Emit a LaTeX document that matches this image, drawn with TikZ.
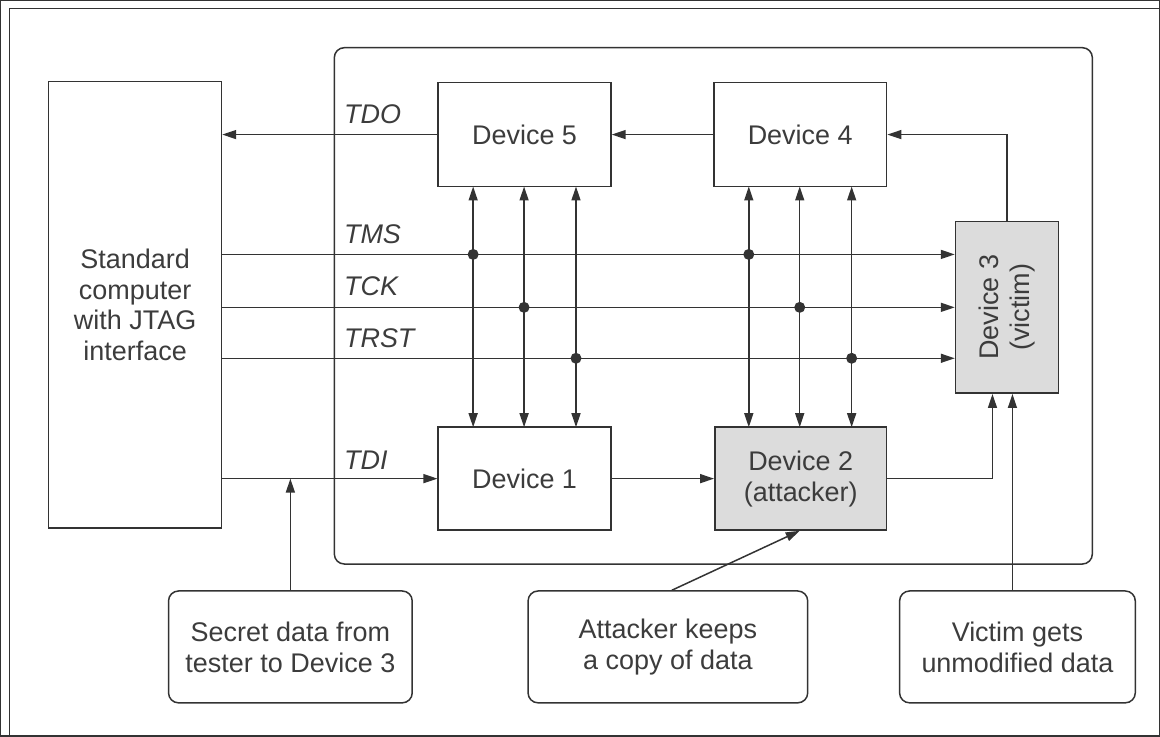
\documentclass[tikz,border=0pt]{standalone}
\usepackage{fontspec}
\setmainfont{Liberation Sans}
\usetikzlibrary{arrows.meta,calc}
\definecolor{ink}{HTML}{333333}
\definecolor{txt}{HTML}{3C3C3C}
\definecolor{shade}{HTML}{DCDCDC}

\begin{document}
\begin{tikzpicture}[x=1pt,y=-1pt, line width=1.5pt,
  every path/.style={draw=ink},
  arr/.style={-{Triangle[length=14pt,width=9pt]}},
  biarr/.style={{Triangle[length=14pt,width=9pt]}-{Triangle[length=14pt,width=9pt]}},
  devbox/.style={draw=ink, line width=1.5pt, inner sep=0pt, text=txt,
    font=\fontsize{27}{31}\selectfont, align=center},
  callout/.style={devbox, rounded corners=10pt},
  sig/.style={anchor=base west, text=txt, inner sep=0pt,
    font=\fontsize{27}{31}\selectfont\itshape},
  junction/.style={fill=ink, draw=none}]

\useasboundingbox (0,0) rectangle (1160,736);

% outer frame (open to the right and bottom)
\draw (9,740) -- (9,8) -- (1165,8);

% board holding the chained devices
\draw[rounded corners=10pt] (334,47) rectangle (1093,564);

% host computer
\node[devbox, minimum width=173pt, minimum height=447pt] (comp) at (134.5,304.5)
  {Standard\\computer\\with JTAG\\interface};

% devices on the chain
\node[devbox, minimum width=173pt, minimum height=104pt] (d5) at (524.5,134) {Device 5};
\node[devbox, minimum width=173pt, minimum height=104pt] (d4) at (800.5,134) {Device 4};
\node[devbox, minimum width=173pt, minimum height=103pt] (d1) at (524.5,478.5) {Device 1};
\node[devbox, fill=shade, minimum width=172pt, minimum height=103pt] (d2) at (801,478.5)
  {Device 2\\(attacker)};
\node[devbox, fill=shade, minimum width=103pt, minimum height=172pt] (d3) at (1007.5,307) {};
\node[text=txt, font=\fontsize{27}{31}\selectfont, align=center, rotate=90] (d3t) at (d3.center)
  {Device 3\\(victim)};

% explanatory callouts
\node[callout, minimum width=244pt, minimum height=112pt] (c1) at (290,647)
  {Secret data from\\tester to Device 3};
\node[callout, minimum width=280pt, minimum height=112pt] (c2) at (668,647)
  {Attacker keeps\\a copy of data};
\node[callout, minimum width=236pt, minimum height=112pt] (c3) at (1018,647)
  {Victim gets\\unmodified data};

% scan chain data path
\draw[arr] (d5.west) -- (comp.east |- d5.west);
\draw[arr] (d4.west) -- (d5.east);
\draw[arr] (d3.north) |- (d4.east);
\draw[arr] (comp.east |- d1.west) -- (d1.west);
\draw[arr] (d1.east) -- (d2.west);
\draw[arr] (d2.east) -| ($(d3.south)+(-14.5,0)$);

% control lines
\draw[arr] (comp.east |- 0,254) -- (d3.west |- 0,254);
\draw[arr] (comp.east |- 0,307) -- (d3.west |- 0,307);
\draw[arr] (comp.east |- 0,358) -- (d3.west |- 0,358);

% taps to devices 5/1 and 4/2
\foreach \x in {473,524,576,749,800,852}{
  \draw[biarr] (\x,186) -- (\x,427);
}
\foreach \x/\y in {473/254,524/307,576/358,749/254,800/307,852/358}{
  \fill[junction] (\x,\y) circle (5.5pt);
}

% signal names
\node[sig] (ltdo) at (343,123) {TDO};
\node[sig] (ltms) at (343,243) {TMS};
\node[sig] (ltck) at (343,295) {TCK};
\node[sig] (ltrst) at (343,347) {TRST};
\node[sig] (ltdi) at (343,469) {TDI};

% callout pointers
\draw[arr] (c1.north) -- (c1.north |- d1.west);
\draw[arr] ($(c2.north)+(4,0)$) -- ($(d2.south)+(-1,0)$);
\draw[arr] ($(c3.north)+(-5,0)$) -- ($(d3.south)+(5.5,0)$);
\end{tikzpicture}
\end{document}
